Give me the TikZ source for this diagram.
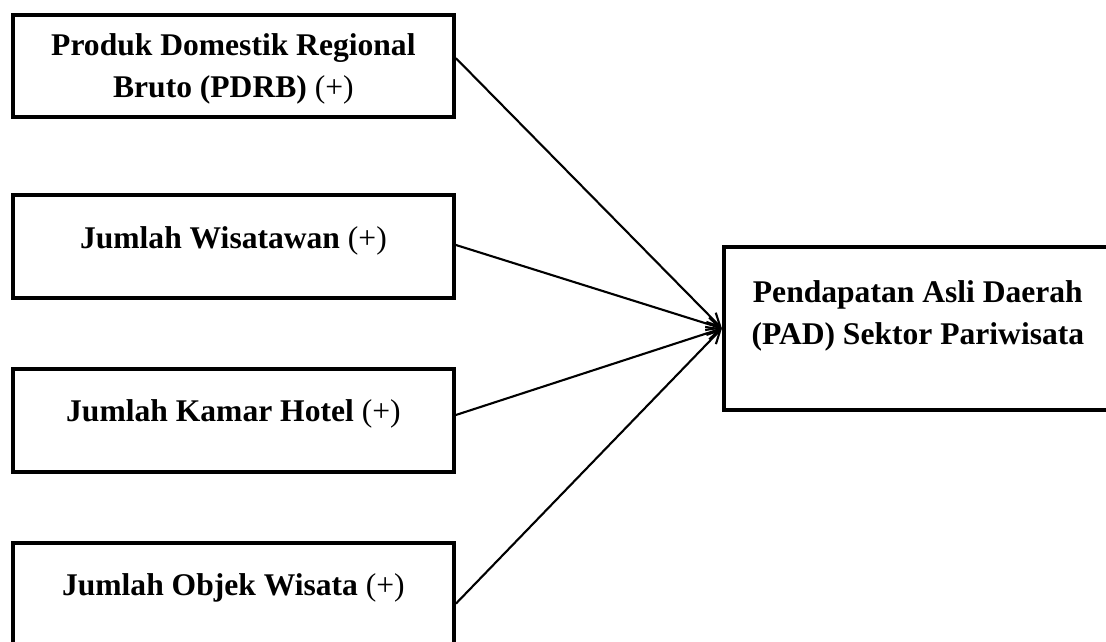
\documentclass[tikz,border=0pt]{standalone}
\usepackage{fontspec}
\setmainfont{Liberation Serif}
\usepackage{tikz}
\usetikzlibrary{positioning,arrows.meta}

\begin{document}
\begin{tikzpicture}[node distance=25.6pt,font=\fontsize{12pt}{16pt}\selectfont\bfseries,
  box/.style={draw,line width=1.5pt,minimum width=167.6pt,minimum height=39pt,align=center,inner sep=0pt,text depth=7pt},
  link/.style={-{Straight Barb[length=5pt,width=5pt]},line width=0.8pt}]
\useasboundingbox (0,0) rectangle (420.3pt,-243.6pt);
\node[box,text depth=0.5pt] (pd) at (88.7pt,-25.1pt) {Produk Domestik Regional\\Bruto (PDRB) \textmd{(+)}};
\node[box,below=28pt of pd] (jw) {Jumlah Wisatawan \textmd{(+)}};
\node[box,below=of jw] (kh) {Jumlah Kamar Hotel \textmd{(+)}};
\node[box,below=of kh] (ow) {Jumlah Objek Wisata \textmd{(+)}};
\node[box,minimum width=147.4pt,minimum height=61.9pt,text depth=12pt] (pad) at (348.8pt,-124.8pt) {Pendapatan Asli Daerah\\(PAD) Sektor Pariwisata};
\draw[link] ([yshift=3pt]pd.east)--(pad.west);
\draw[link] ([yshift=0.5pt]jw.east)--(pad.west);
\draw[link] ([yshift=2pt]kh.east)--(pad.west);
\draw[link] ([yshift=-3.6pt]ow.east)--(pad.west);
\end{tikzpicture}
\end{document}
